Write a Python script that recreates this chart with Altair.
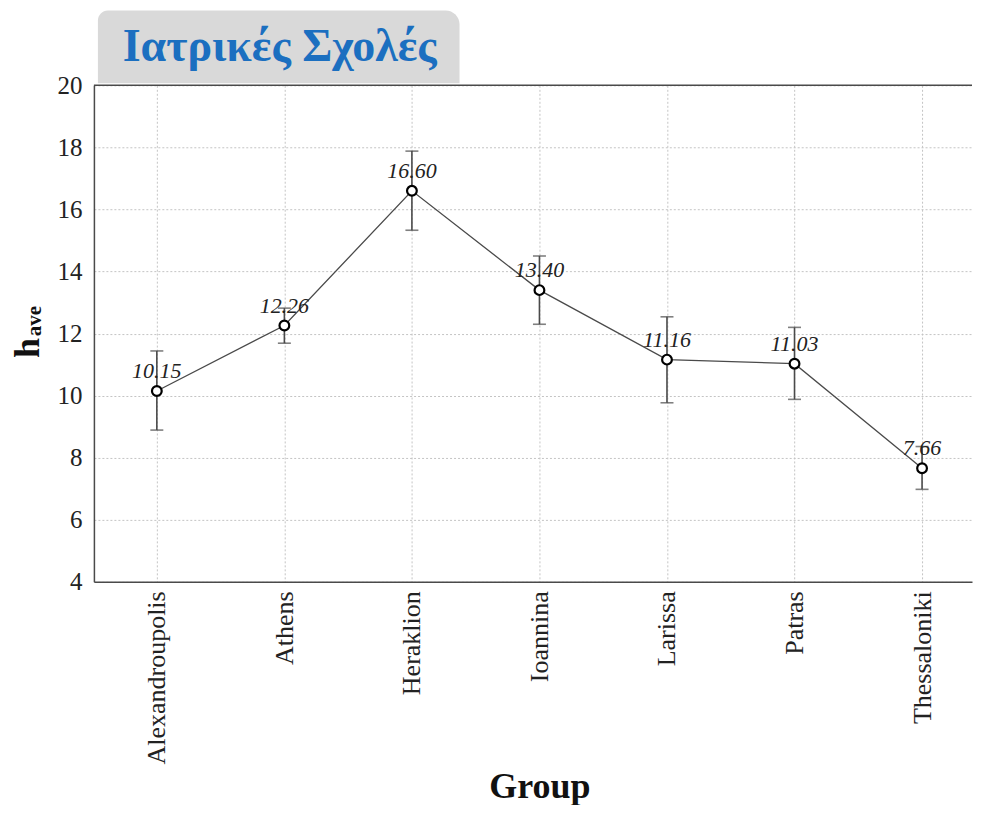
import altair as alt
import pandas as pd

groups = ["Alexandroupolis", "Athens", "Heraklion", "Ioannina", "Larissa", "Patras", "Thessaloniki"]
means = [10.15, 12.26, 16.60, 13.40, 11.16, 11.03, 7.66]
lower = [8.89, 11.69, 15.33, 12.30, 9.77, 9.88, 6.98]
upper = [11.44, 12.82, 17.88, 14.50, 12.54, 12.20, 8.36]
y_ticks = [4, 6, 8, 10, 12, 14, 16, 18, 20]
title_text = "Ιατρικές Σχολές"
x_title = "Group"
y_title_main = "h"
y_title_sub = "ave"

W, H = 879, 497
SERIF = "Liberation Serif"
LINE = "#4a4a4a"

df = pd.DataFrame({"group": groups, "mean": means, "lo": lower, "hi": upper})

x_enc = alt.X("group:N", sort=groups,
              scale=alt.Scale(type="point", padding=0.4425, align=0.5575),
              axis=alt.Axis(title=x_title, labelAngle=-90, labelFont=SERIF, labelFontSize=26,
                            labelColor="#222", labelPadding=9, ticks=False,
                            titleFont=SERIF, titleFontSize=36, titleFontWeight="bold",
                            titleColor="#111", titleX=446, titleY=216, titleBaseline="alphabetic",
                            domainColor=LINE, domainWidth=1.5,
                            grid=True, gridDash=[2, 2], gridColor="#c4c4c4"))
y_scale = alt.Scale(domain=[4, 20], nice=False, zero=False)
y_axis = alt.Axis(title=None, values=y_ticks, labelFont=SERIF, labelFontSize=25, labelColor="#222",
                  labelPadding=12, ticks=False, domainColor=LINE, domainWidth=1.5,
                  grid=True, gridDash=[2, 2], gridColor="#c4c4c4")

base = alt.Chart(df)

err = base.mark_rule(color=LINE, strokeWidth=1.6).encode(
    x=x_enc, y=alt.Y("lo:Q", scale=y_scale, axis=y_axis), y2="hi:Q")
cap_lo = base.mark_tick(color=LINE, size=13, thickness=1.6).encode(
    x=alt.X("group:N", sort=groups), y=alt.Y("lo:Q"))
cap_hi = base.mark_tick(color=LINE, size=13, thickness=1.6).encode(
    x=alt.X("group:N", sort=groups), y=alt.Y("hi:Q"))
line = base.mark_line(color=LINE, strokeWidth=1.3).encode(
    x=alt.X("group:N", sort=groups), y=alt.Y("mean:Q"))
pts = base.mark_point(shape="circle", filled=True, fill="white", stroke="black",
                      strokeWidth=2.2, size=95, opacity=1).encode(
    x=alt.X("group:N", sort=groups), y=alt.Y("mean:Q"))
labels = base.mark_text(font=SERIF, fontSize=22, fontStyle="italic", color="#222",
                        baseline="alphabetic", dy=-13).encode(
    x=alt.X("group:N", sort=groups), y=alt.Y("mean:Q"), text=alt.Text("mean:Q", format=".2f"))

tdf = pd.DataFrame({"t": [title_text]})
top_rule = alt.Chart(tdf).mark_rule(color=LINE, strokeWidth=1.5).encode(
    x=alt.value(0), x2=alt.value(W), y=alt.value(0))
box = alt.Chart(tdf).mark_rect(color="#d9d9d9", cornerRadiusTopLeft=10, cornerRadiusTopRight=14).encode(
    x=alt.value(4), x2=alt.value(366), y=alt.value(-75), y2=alt.value(-2))
title = alt.Chart(tdf).mark_text(font=SERIF, fontSize=46, fontWeight="bold", color="#1b6fc0",
                                 align="center", baseline="alphabetic").encode(
    x=alt.value(186), y=alt.value(-24), text="t:N")
yt_main = alt.Chart(pd.DataFrame({"t": [y_title_main]})).mark_text(
    font=SERIF, fontSize=36, fontWeight="bold", color="#111", angle=270,
    align="center", baseline="alphabetic").encode(
    x=alt.value(-55), y=alt.value(263), text="t:N")
yt_sub = alt.Chart(pd.DataFrame({"t": [y_title_sub]})).mark_text(
    font=SERIF, fontSize=21, fontWeight="bold", color="#111", angle=270,
    align="center", baseline="alphabetic").encode(
    x=alt.value(-53), y=alt.value(236), text="t:N")

chart = alt.layer(err, cap_lo, cap_hi, line, pts, labels, top_rule, box, title, yt_main, yt_sub).properties(
    width=W, height=H,
    padding={"left": 2, "top": 2, "right": 0, "bottom": 0},
    background="white",
).configure_view(stroke="transparent")

chart.save("out.html", embed_options={"renderer": "svg", "actions": False})
